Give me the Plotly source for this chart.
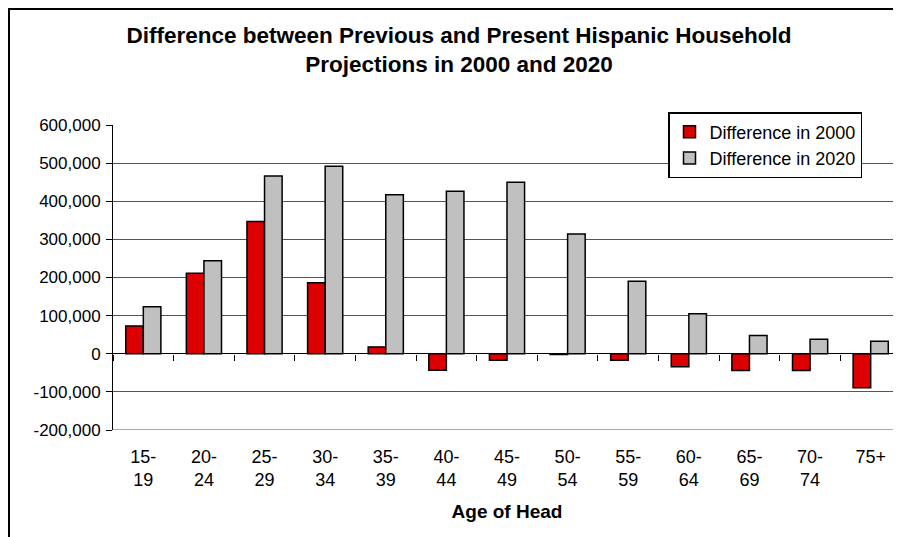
import plotly.graph_objects as go

age_groups = ["15-<br>19", "20-<br>24", "25-<br>29", "30-<br>34", "35-<br>39", "40-<br>44",
              "45-<br>49", "50-<br>54", "55-<br>59", "60-<br>64", "65-<br>69", "70-<br>74", "75+"]
diff_2000 = [73000, 211000, 347000, 186000, 18000, -43000, -17000, -2000, -17000, -34000, -44000, -44000, -89000]
diff_2020 = [123000, 244000, 466000, 492000, 417000, 426000, 450000, 314000, 190000, 105000, 48000, 38000, 33000]
ytick_vals = [-200000, -100000, 0, 100000, 200000, 300000, 400000, 500000, 600000]
ytick_text = ["-200,000", "-100,000", "0", "100,000", "200,000", "300,000", "400,000", "500,000", "600,000"]

FONT = "Liberation Sans, Arial, sans-serif"
OFF = 8                      # page body margin of the browser
W, H = 901 - OFF, 537 - OFF
ML, MR, MT, MB = 113 - OFF, 0, 125 - OFF, 537 - 430
pw, ph = W - ML - MR, H - MT - MB
ymin, ymax = ytick_vals[0], ytick_vals[-1]
zero_pos = (0 - ymin) / (ymax - ymin)

fig = go.Figure()
fig.add_trace(go.Bar(x=age_groups, y=diff_2000, name="Difference in 2000",
                     marker=dict(color="#DD0000", line=dict(color="black", width=1.5))))
fig.add_trace(go.Bar(x=age_groups, y=diff_2020, name="Difference in 2020",
                     marker=dict(color="#C0C0C0", line=dict(color="black", width=1.5))))

fig.update_layout(
    width=W, height=H,
    margin=dict(l=ML, r=MR, t=MT, b=MB, autoexpand=False),
    paper_bgcolor="white", plot_bgcolor="white",
    barmode="group", bargap=0.42, bargroupgap=0,
    font=dict(family=FONT, color="black"),
    title=dict(text="Difference between Previous and Present Hispanic Household<br>Projections in 2000 and 2020",
               x=451 / W, xanchor="center", y=1 - 35 / H, yanchor="middle", yref="container",
               font=dict(size=22.5, family=FONT, color="black", weight="bold")),
    legend=dict(x=(862 - 113) / pw, xanchor="right", y=1 + (125 - 112) / ph, yanchor="top",
                bgcolor="white", bordercolor="black", borderwidth=1.5,
                font=dict(size=18, family=FONT, color="black"), itemwidth=30,
                tracegroupgap=0),
    xaxis=dict(anchor="free", position=zero_pos, showline=False, automargin=False,
               ticks="outside", tickson="boundaries", ticklen=6, tickcolor="black", tickwidth=1,
               ticklabelstandoff=90, tickfont=dict(size=18, family=FONT, color="black"),
               showgrid=False,
               title=dict(text="<b>Age of Head</b>", font=dict(size=19, family=FONT, color="black"), standoff=15)),
    yaxis=dict(range=[ymin, ymax], tickvals=ytick_vals, ticktext=ytick_text, automargin=False,
               showgrid=True, gridcolor="#555555", gridwidth=1,
               zeroline=True, zerolinecolor="black", zerolinewidth=1,
               showline=True, linecolor="black", linewidth=1,
               ticks="outside", ticklen=6, tickcolor="black", ticklabelstandoff=2,
               tickfont=dict(size=17, family=FONT, color="black")),
)

# bottom gridline at the lower edge of the plot area
fig.add_shape(type="line", xref="paper", yref="y", x0=0, x1=1, y0=ymin, y1=ymin,
              line=dict(color="#555555", width=1), layer="below")

# chart frame (left and top edges visible)
fig.add_shape(type="rect", xref="paper", yref="paper",
              x0=(1 - ML) / pw, x1=1.05, y0=-0.5, y1=(H - MB - 1) / ph,
              line=dict(color="black", width=2), fillcolor="rgba(0,0,0,0)", layer="below")

fig.write_html("out.html")
